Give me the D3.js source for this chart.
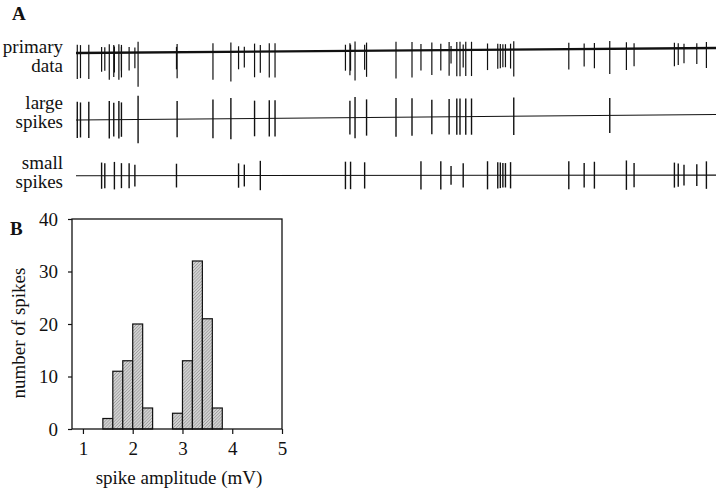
<!DOCTYPE html>
<html>
<head>
<meta charset="utf-8">
<script src="https://cdn.jsdelivr.net/npm/d3@7"></script>
<style>
  body { margin: 0; background: #fff; }
  svg { display: block; }
  svg text { font-family: 'Liberation Serif', 'Times New Roman', Times, 'DejaVu Serif', serif; }
</style>
</head>
<body>
<svg width="720" height="490"></svg>
<script>
// panel A: spike times (s) and amplitudes (mV)
const largeTimes = [0.02, 0.07, 0.20, 0.52, 0.59, 0.67, 0.71, 0.97, 1.58, 2.14, 2.42, 2.79, 3.02, 3.11,
  4.28, 4.36, 4.54, 5.00, 5.25, 5.56, 5.83, 5.95, 6.00, 6.09, 6.18, 6.84, 8.34];
const largeAmps = [2.9, 2.8, 2.9, 3.0, 2.7, 3.0, 2.75, 3.8, 2.9, 3.1, 3.3, 2.85, 2.9, 2.9,
  2.7, 3.3, 2.9, 3.1, 3.0, 2.75, 2.85, 2.9, 2.9, 2.9, 2.9, 3.0, 2.8];
const smallTimes = [0.40, 0.45, 0.60, 0.71, 0.83, 0.92, 1.57, 2.54, 2.63, 2.88, 4.21, 4.29, 4.51,
  5.39, 5.70, 5.86, 6.05, 6.43, 6.59, 6.63, 6.67, 6.71, 6.79,
  7.70, 7.94, 8.10, 8.60, 8.72, 9.35, 9.41, 9.50, 9.70, 9.85];
const smallAmps = [2.1, 2.0, 2.2, 2.0, 2.0, 1.75, 1.9, 1.95, 1.75, 2.35, 2.2, 2.2, 2.1,
  2.25, 2.25, 1.5, 1.95, 2.25, 2.1, 2.05, 1.95, 1.95, 2.1,
  2.25, 1.95, 2.15, 2.35, 1.95, 2.0, 1.85, 1.65, 1.75, 2.2];
// slow baseline drift (mV) at start and end of each trace
const primaryDrift = [0, 0.55];
const largeDrift = [0, 0.44];
const smallDrift = [0, 0.05];

// panel B: amplitude histogram
const binStarts = [1.4, 1.6, 1.8, 2.0, 2.2, 2.8, 3.0, 3.2, 3.4, 3.6];
const binCounts = [2, 11, 13, 20, 4, 3, 13, 32, 21, 4];
const binWidth = 0.2;
const xTicks = [1, 2, 3, 4, 5];
const yTicks = [0, 10, 20, 30, 40];

const svg = d3.select('svg');
const ink = '#111';
const fontSize = 19;

// ---------- panel A ----------
const t = d3.scaleLinear().domain([0, 10]).range([76, 716]);

svg.append('text')
    .attr('x', 12).attr('y', 20)
    .attr('font-size', fontSize).attr('font-weight', 'bold').attr('fill', ink)
    .text('A');

const rowLabels = [
  { lines: ['primary', 'data'], ys: [53, 72] },
  { lines: ['large', 'spikes'], ys: [109, 128] },
  { lines: ['small', 'spikes'], ys: [169, 188] }
];
rowLabels.forEach(r => {
  r.lines.forEach((s, i) => {
    svg.append('text')
        .attr('x', 63).attr('y', r.ys[i])
        .attr('text-anchor', 'end')
        .attr('font-size', fontSize).attr('fill', ink)
        .text(s);
  });
});

// primary data: combined spikes on a drifting baseline
const yPrim = d3.scaleLinear().domain([0, 1]).range([53, 44]);
const primDrift = d3.scaleLinear().domain([0, 10]).range(primaryDrift);
const gPrim = svg.append('g');
gPrim.append('line')
    .attr('x1', t(0)).attr('x2', t(10))
    .attr('y1', yPrim(primDrift(0))).attr('y2', yPrim(primDrift(10)))
    .attr('stroke', ink).attr('stroke-width', 2.4);

const allSpikes = largeTimes.map((d, i) => ({ t: d, a: largeAmps[i] }))
  .concat(smallTimes.map((d, i) => ({ t: d, a: smallAmps[i] })));
gPrim.selectAll('line.spk')
  .data(allSpikes)
  .enter().append('line')
    .attr('class', 'spk')
    .attr('x1', d => t(d.t)).attr('x2', d => t(d.t))
    .attr('y1', d => yPrim(primDrift(d.t) + d.a / 3.2))
    .attr('y2', d => yPrim(primDrift(d.t) - d.a))
    .attr('stroke', ink)
    .attr('stroke-width', 1.2);

// sorted traces
function sortedTrace(times, amps, drift, base) {
  const y = d3.scaleLinear().domain([0, 1]).range([base, base - 12.5]);
  const dr = d3.scaleLinear().domain([0, 10]).range(drift);
  const g = svg.append('g');
  g.append('line')
      .attr('x1', t(0)).attr('x2', t(10))
      .attr('y1', y(dr(0))).attr('y2', y(dr(10)))
      .attr('stroke', ink).attr('stroke-width', 1.1);
  g.selectAll('line.spk')
    .data(times.map((d, i) => ({ t: d, a: amps[i] })))
    .enter().append('line')
      .attr('class', 'spk')
      .attr('x1', d => t(d.t)).attr('x2', d => t(d.t))
      .attr('y1', d => y(dr(d.t) + d.a / 2))
      .attr('y2', d => y(dr(d.t) - d.a / 2))
      .attr('stroke', ink).attr('stroke-width', 1.4);
}
sortedTrace(largeTimes, largeAmps, largeDrift, 120);
sortedTrace(smallTimes, smallAmps, smallDrift, 175.7);

// ---------- panel B ----------
const hb = { left: 72, top: 219, width: 210, height: 210 };
const x = d3.scaleLinear().domain([0.78, 5]).range([hb.left, hb.left + hb.width]);
const y = d3.scaleLinear().domain([0, 40]).range([hb.top + hb.height, hb.top]);

svg.append('text')
    .attr('x', 10).attr('y', 235)
    .attr('font-size', fontSize).attr('font-weight', 'bold').attr('fill', ink)
    .text('B');

const defs = svg.append('defs');
const pat = defs.append('pattern')
    .attr('id', 'hatch')
    .attr('patternUnits', 'userSpaceOnUse')
    .attr('width', 2.2).attr('height', 2.2)
    .attr('patternTransform', 'rotate(45)');
pat.append('rect').attr('width', 2.2).attr('height', 2.2).attr('fill', '#d2d2d2');
pat.append('line').attr('x1', 0).attr('y1', 0).attr('x2', 0).attr('y2', 2.2)
    .attr('stroke', '#7e7e7e').attr('stroke-width', 0.9);

svg.append('g').selectAll('rect')
  .data(binStarts.map((d, i) => ({ x0: d, n: binCounts[i] })))
  .enter().append('rect')
    .attr('x', d => x(d.x0))
    .attr('y', d => y(d.n))
    .attr('width', d => x(d.x0 + binWidth) - x(d.x0))
    .attr('height', d => y(0) - y(d.n))
    .attr('fill', 'url(#hatch)')
    .attr('stroke', ink)
    .attr('stroke-width', 1.2);

const yAxis = svg.append('g')
    .attr('transform', `translate(${hb.left},0)`)
    .call(d3.axisLeft(y).tickValues(yTicks).tickSize(4).tickPadding(10).tickFormat(d3.format('d')));
const xAxis = svg.append('g')
    .attr('transform', `translate(0,${hb.top + hb.height})`)
    .call(d3.axisBottom(x).tickValues(xTicks).tickSize(5).tickPadding(8).tickFormat(d3.format('d')));
[xAxis, yAxis].forEach(a => {
  a.attr('font-family', null).attr('font-size', null);
  a.select('.domain').remove();
  a.selectAll('line').attr('stroke', ink).attr('stroke-width', 1.2);
  a.selectAll('text')
      .attr('font-size', fontSize).attr('fill', ink);
});

svg.append('rect')
    .attr('x', hb.left).attr('y', hb.top)
    .attr('width', hb.width).attr('height', hb.height)
    .attr('fill', 'none').attr('stroke', ink).attr('stroke-width', 1.3);

svg.append('text')
    .attr('x', (hb.left + hb.left + hb.width) / 2 + 2).attr('y', 484)
    .attr('text-anchor', 'middle')
    .attr('font-size', fontSize).attr('fill', ink)
    .text('spike amplitude (mV)');

svg.append('text')
    .attr('transform', `translate(25,${hb.top + hb.height / 2 + 9}) rotate(-90)`)
    .attr('text-anchor', 'middle')
    .attr('font-size', fontSize).attr('fill', ink)
    .text('number of spikes');
</script>
</body>
</html>
